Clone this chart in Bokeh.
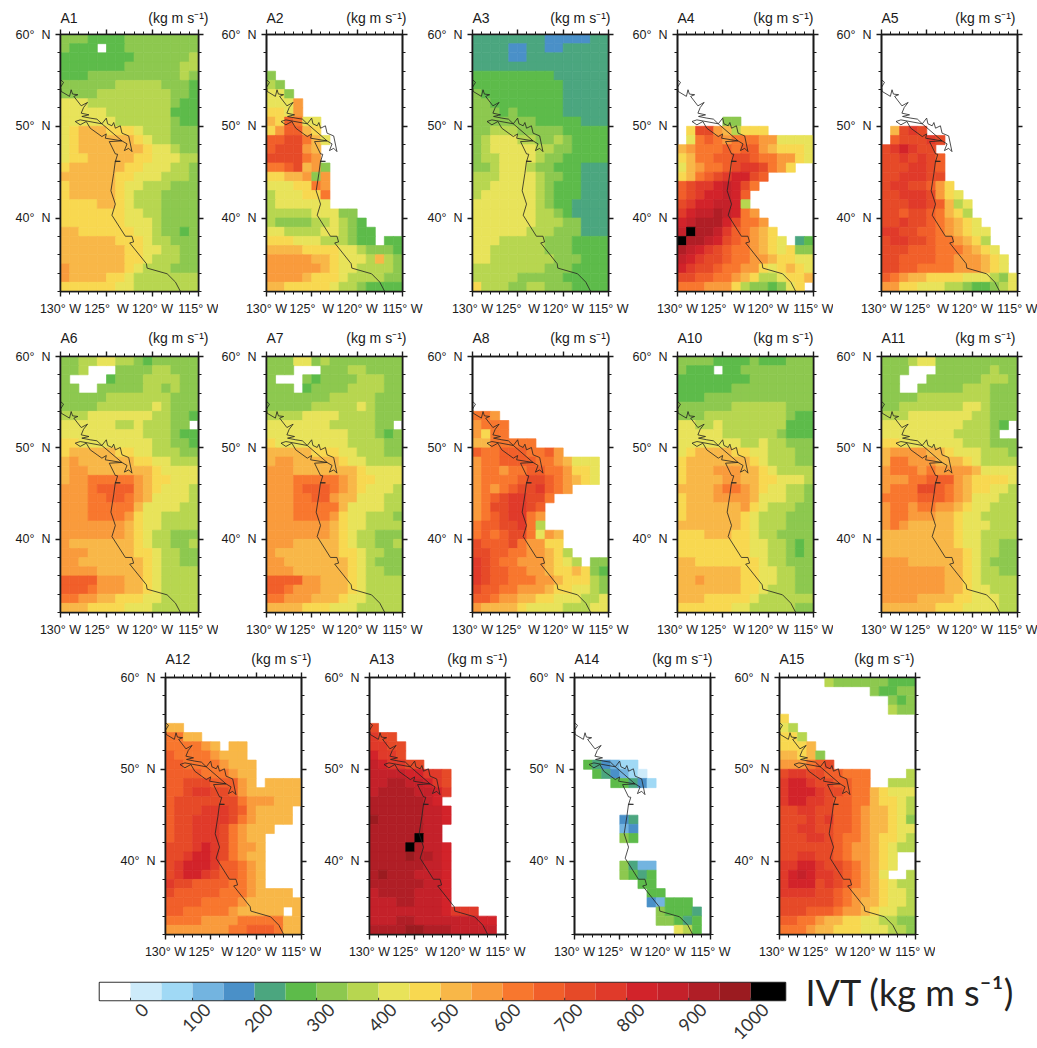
from math import pi
from bokeh.embed import file_html
from bokeh.resources import INLINE
from bokeh.plotting import figure
from bokeh.layouts import column, row
from bokeh.models import (ColumnDataSource, FixedTicker, Label, LinearAxis,
                          LinearColorMapper, Range1d, Spacer)
from bokeh.transform import transform

# Colour classes: a=0-50, b=50-100 ... t=950-1000, X=>1000, .=no data (each row from 130W, rows from 60N)
LETTERS = "abcdefghijklmnopqrst"
PALETTE = ["#CDEBFA", "#A0D9F5", "#73B4E0", "#4A90C8", "#4BA67F", "#5DBB4A", "#8DC84F", "#B7D650",
           "#E8E35A", "#F8D850", "#F8B748", "#F99B3C", "#F8772E", "#F15F2A", "#E64A28", "#E03A2A",
           "#D2232A", "#C4212A", "#B01E26", "#9B1B20"]

A1 = ["gggffffgggggggg","gfff.ffgggggggg","ffffffffggggggh","fffffffgggggghh","fffgggggggggghg","gggggghhhhhgggf","gggghhhhhhhhggf","iiihhhhhhhhhgff","iiiiihhhhhhhfff","iiiiiihhhhhhgff","ijkkkjjjihhhggg","ijkkkkkkjihhggg","ijkkkkkkkjiihgg","ijjkkkkkjjiiihh","jkkkkkkjjiiihhg","kkkkkkjjiiihhhg","jkkkkkjiihhhggg","jkkkkkjihhhgggg","jjjjkkjihhhgggg","jjjjjjjiihhgggg","jjjjjjjiiihgggg","kkjjjjjjiihggfg","kkkkkkjjjihhggg","kkkkkkkjjiihhgg","kkkkkkkjjihhhgg","lkkkkkkjihhhggg","lkkkkjjihhhhhhh","jjjjjjiihhhhhhh"]
A2 = ["","","","","g","hg","iig","iiil","jjil","kjnmii","jlnnkj","nnoomki","nooolk","ooooml","mmnoklg","jjkklgl","iiijjml","hiiijjm","hiiiiii","hhhhhiiigg","hgggghhihgf","iihhhhiihgff","jjjiiihhhgff.ff","kkkkjjjjiihgggf","lllllkkjiiihkhg","llllllkjiihhhhg","llllkjjjihhhhgg","kkjjjjjihhgffff"]
A3 = ["eeeeeeeedddddee","eeeeddeeddeeeee","eeeeddeeeeeeeee","eeeeeeeeeeeeeee","fffffffffeeeeee","ffffffffffeeeee","gfffffffffeeeee","ggffffffffeeeee","gggfgfffffeeeee","gggggggfffffeee","gghhhgggggfffff","ghiiihhgghgffff","ghiiiiihhggffff","ghhiiiihggfffff","gghiiihggfffeee","hhhiiiihggffeee","hhiiiiihgfffeee","hiiiiiihgfffeee","iiiiiiihgffeeee","iiiiiiihhgfeeee","iiiiiiihhhggeee","iiiiiihhhgggeee","iiihhhhhgggffff","iihhhhhhgggffff","iihhhhhhhgggfff","hhhhhhhhgggffff","hhhhhgggggfffff","jhhhgghhgggffff"]
A4 = ["","","","","","","","","",".....gg",".joolkhjjj",".imnmlmmmlliiii","klmmmnmnnlkjjji","jkmmnnoonmmllji","iklmmnoppomlj","jkmnopqqon","noppqrqom","nopqqrqn","opqqrrqh","pqrrsrqml","qrsssqomml","rXssrpnmlkj","Xssrqonmlkji.ef","srqponmmlkjijgg","rqpoonmmllkjjii","qpoonmmlljijkji","oonnmmlkjhhijjk","mmmllljhggfgij"]
A5 = ["","","","","","","","","","",".kopo",".nooopo","opqpoo","oopopon","oooppon","oopppoo","oppoonlj","oopppolji","ooopponkhi","oonoonmkjh","oopoonmlkji","ppoonnmlkjii","oppoonmmlkjh","ooonnnmmmlkji","oonnnnmmlllkji","oonnmmmmlllkji","nmlkkjjjjiiihgi","lljjiiihhgffghi"]
A6 = ["gghhiihhgfggggg","ggh...gggghhggg","g....fggghhhhgg","gg..ggggghhghgg","ggggghhhhhhhggg","gggghhhhhhihggg","hhhiiiiiiihhggf","iiiiiihhihhhgg.","iiiiiiiiihhhgff","jjiiiiiiiihhggf","jkkkkkjjiihhhgg","klkkkkkkjjiihhh","kllkkkkkkkjiiii","kllmmmmmlkjjiii","lllmnnnnlkjiiih","lllmmnnmlkiiiih","lllmmmmmkiiiihh","lllmmmmljiihhhh","lllllllkjiihhhh","lllllllkjihhggg","lkkkkkkkjihhggh","lllkkkkkjjihhgg","llkkkkkkkjihhgg","llllkkkkkjihhhh","nnnnlllkkjihhhh","nnnmlllkkjihhhh","mmllkkjjjiihhhh","kkkjjjjiiihhhhh"]
A7 = ["gggiighgggggggg","ggg...ggghhgggg","g...gfgggghhhgg","ggg.fgggghhhhgg","ggggggghhhhhggg","ggggghhhhhihggg","hhhhiiiihhhhggg","iiiiiiihhhhhgg.","iiiiiiiiihhhgfg","jiiiiiiiihhhhgg","kkkkkjjjiihhhgg","kllkkkkkjiihhhh","lllkkkkkkkjiiii","lllmmmmmlkjjiii","lllmnnnmlkjiiih","lllmmnnlkkiiihh","lllmmmmmkiiiihh","lllmmmmljiihhhg","lllllllkjiihhhh","lllllllkjihhggg","lllkkkkkjihhggh","lkkkkkkkjjihhgg","llkkkkkkkjihggg","lllkkkkkkjihhgg","nnnnllkkkjihhhh","nnmlllkkkjihhhh","mmlllkkkjiihhhh","kkkkjjjiiihhhhh"]
A8 = ["","","","","","","mml","lmmm","ljmm","kkmmmmm","nmmnnnmmnl","lmmnnnnmmlkiii","lmmlmmnnmmljji","lmmmmnoonmlkji","lmlmnoopnml","lmnoppoom","lmooppon","lmnoppml","mnnoopmh","mnmnoomilk","onnnomlljj","oonnmmllkjh","ponmmlllkjih.gg","ponnmmllkjjkjgf","ponnmmmllkjjjhg","onnmmlllkjjiihg","nnmllkkjjiiihhi","lkkkkjiiiihhhii"]
A10 = ["ggggffffgfffggg","gfff.ffgggggggg","ffffffffggggggg","ffffffggggggggg","fffgggggggggggg","gggggghhhhhhggg","ggghhhhhhhhhgff","iihhihhhhhhhfff","iiiiihhhhhhgfff","iiiiiiihhihhggg","ijkkkkjjiihhhgg","jkkkkkkkjihhhgg","jkkklllkkjihhhh","jkkkkllkkjjiiih","kkkklmmlkjiihhg","jkkkllllkiiihhg","jkkkkkkljihhhgg","jkkkkkkjihhhggg","kkkkkkkjihhhggg","jjjkkkjjihhgggg","jjjjjjjjiihhgfg","jjjjjjjjiihhgfg","kkjjjjjjjihhggg","kkkkkkkjjiihhgg","kklkkkkjjiihhgg","kkkkkkkjjihhhgg","kkkjjjjjihhhhhh","jjjjjjiihhhhhgg"]
A11 = ["ggghiiggggggggg","ggg...gggggghgg","gg...gggggghhhg","gg..ggggghhhggg","gggghhhhhhhhggg","gghhhhhhhiihggg","hhhiiiiiiihhggg","iiiiiiiiihhhgf.","iiiiiiiihhhhg..","jjiiiiiiihhhggg","kllllkkjiiihhhg","kmmlllkkkjihhhh","lmmmlmllllkiiii","lllmmnnnlkjjjji","lmmmoonmlkjjiih","mmmmnnnmlkiiihh","lmmlmmllkjiihhh","lmmlllkkjiihhhh","lmlkkkkkjiiihhh","kkkkkkkkjiihhhh","kkkkkkkkjiihhgg","kkkkkkkkkjihhgg","lllkkkkkkjihggg","lllllllkkjihhgg","lllllllkkjihhhh","lllllllkkjiihhh","llllkkkkjjiiihh","kkkkkkjjjiiiihh"]
A12 = ["","","","","","kk","mmkk","mmmmlk.kk","nmmmmlkkk","nnmmmmlkkk","nnnnmmmlkk","nnooonnnlk.kkkk","nnoppoonlkkkkkk","nooooooomlllkkk","noooppponlkkkk","nooppppomlkkkk","noopppomlkkk","noopppomlkk","ooopqpomllk","oopqqpomlkk","opqqqpnnmlk","opqqponnmlk","poonnnnmmlk","onnnnnmmmlkkkk","nnnnmmmmlkkkkkk","nnmmmmmlkkkkk.k","mmmmllllmmmmmkk","lllllllmmnnnmkk"]
A13 = ["","","","","","o","poo","ppoo","qppo","rqppoo","rrrrqqppo","rrssrrqpo","rssssrrqp","ssssssrq","ssssssrrq","tsssssrrq","ssssssrr","sssssXrr","ssssXsrrq","sssstssrq","ssssssrrq","stsssrrrq","ssssssrrq","rssssrrrq","rrrssrrrq","rrrrrrrrqppp","rrrssrrrrrrrqq","ssssttsssrrrrr"]
A14 = ["","","","","","","","","",".fedcbb","..fedcba","....ffedb","","","",".....de",".....cd",".....gf","","",".....gecc",".....gfef",".......ff","........ff","........dcfff",".........gfffe",".........ggfef","...........ihf"]
A15 = [".....hggggggfff","..........gffgg","............gfg","............hgg","j","ih","jjh","jjjk","kkjkg","lllmno","oppoonnmmm....h","pqqpoonnmm..hhh","pqqqpoonmmkjiii","pqqpponnmmkjjih","ooppoonnmlkkjih","ooopopnnmlkkjig","ooppoonnmlkkjii","ooopponmmlkjjih","oooooonmllkjihh","ooppoonmllkji..","ppqqpoonmlkji..","pqrqpponmlki..h","pqqqoponmlkjihh","ppppoonmllkjiih","oooooonmlkkjiih","ooonnnmllkjiihh","nnmmlkkjjiihhgg","mmmlkkjjjiiihhg"]

COAST_LON = [-130.00,-129.67,-130.00,-129.93,-129.02,-128.84,-128.69,-128.11,-128.55,-127.75,-127.06,-127.49,-127.75,-126.91,-127.68,-126.77,-126.04,-125.50,-125.02,-124.88,-124.41,-124.22,-124.04,-123.50,-123.32,-122.59,-122.23,-122.59,-123.06,-122.77,-123.32,-125.50,-127.86,-128.40,-127.86,-127.20,-126.77,-125.50,-125.02,-125.13,-123.32,-124.70,-124.04,-123.79,-124.04,-123.50,-124.04,-124.22,-124.52,-124.04,-124.41,-122.95,-122.23,-122.05,-122.48,-120.66,-120.59,-118.41,-117.50,-116.96]
COAST_LAT = [55.08,54.79,54.24,53.80,53.26,53.98,53.51,53.44,53.26,52.23,52.60,52.05,51.43,51.25,51.07,50.89,50.78,50.27,50.89,50.27,50.05,50.41,49.79,50.05,49.25,48.95,47.24,47.60,47.35,48.08,48.41,50.27,50.70,50.52,50.16,50.52,49.79,48.88,49.17,48.70,48.41,48.33,46.99,46.95,46.15,46.18,46.22,44.87,42.97,41.52,40.31,38.02,38.02,37.40,37.29,35.03,34.55,33.93,33.02,32.00]

X_TICK_LABELS = {-130: "130° W", -125: "125°\u00a0\u00a0W", -120: "120° W", -115: "115° W"}
Y_TICK_LABELS = {60: "60°\u00a0\u00a0N", 50: "50°\u00a0\u00a0N", 40: "40°\u00a0\u00a0N"}
COLORBAR_TICKS = list(range(0, 1001, 100))
UNIT = "(kg m s⁻¹)"
IVT_LABEL = "IVT (kg m s⁻¹)"

FONT = "Liberation Sans"
INK = "#1a1a1a"
mapper = LinearColorMapper(palette=PALETTE, low=0, high=1000, low_color="#ffffff", high_color="#000000")


def ivt_cells(rows):
    left, right, top, bottom, v = [], [], [], [], []
    for j, r in enumerate(rows):
        for i, ch in enumerate(r):
            if ch == ".":
                continue
            left.append(-130 + i)
            right.append(-129 + i)
            top.append(60 - j)
            bottom.append(59 - j)
            v.append(1025 if ch == "X" else 25 + 50 * LETTERS.index(ch))
    return dict(left=left, right=right, top=top, bottom=bottom, v=v)


def panel(name, rows, left, right, above, below, unit_dx, title_dy):
    w = left + 138 + right
    h = above + 257 + below
    p = figure(width=w, height=h, x_range=Range1d(-130, -115), y_range=Range1d(32, 60),
               output_backend="svg", toolbar_location=None, x_axis_location=None, y_axis_location=None,
               min_border_left=left, min_border_right=right, min_border_top=above, min_border_bottom=below,
               background_fill_color="#ffffff", border_fill_color=None)
    p.xgrid.visible = False
    p.ygrid.visible = False
    p.outline_line_color = INK
    p.outline_line_width = 1.6
    p.quad(left="left", right="right", top="top", bottom="bottom", source=ColumnDataSource(ivt_cells(rows)),
           fill_color=transform("v", mapper), line_color=transform("v", mapper), line_width=0.7)
    p.line(COAST_LON, COAST_LAT, line_color="#222222", line_width=0.8)
    xt = FixedTicker(ticks=list(X_TICK_LABELS), minor_ticks=list(range(-130, -114)))
    yt = FixedTicker(ticks=list(Y_TICK_LABELS), minor_ticks=list(range(32, 61, 2)))
    for side, is_x, labelled in [("below", True, True), ("above", True, False), ("left", False, True), ("right", False, False)]:
        ax = LinearAxis(ticker=xt if is_x else yt)
        ax.axis_line_color = INK
        ax.axis_line_width = 1.6
        ax.major_tick_line_color = INK
        ax.minor_tick_line_color = INK
        ax.major_tick_line_width = 1.4
        ax.major_tick_in = 0
        ax.major_tick_out = 5
        ax.minor_tick_in = 0
        ax.minor_tick_out = 3
        if labelled:
            ax.major_label_overrides = X_TICK_LABELS if is_x else Y_TICK_LABELS
            ax.major_label_text_font = FONT
            ax.major_label_text_font_size = "12.5px"
            ax.major_label_text_color = INK
            ax.major_label_standoff = 5
        else:
            ax.major_label_text_font_size = "0px"
            ax.major_label_text_color = None
            ax.major_label_standoff = 0
        p.add_layout(ax, side)
    p.add_layout(Label(x=-130, y=60, y_offset=title_dy, text=name, text_font=FONT, text_font_size="14px",
                       text_color=INK, text_align="left", text_baseline="alphabetic"), "above")
    p.add_layout(Label(x=-115, y=60, x_offset=unit_dx, y_offset=title_dy, text=UNIT, text_font=FONT,
                       text_font_size="14px", text_color=INK, text_align="right", text_baseline="alphabetic"), "above")
    return p


ROW1 = row(
    panel("A1", A1, 60, 20, 38, 27, 10, 17), panel("A2", A2, 46, 22, 38, 27, 4, 17),
    panel("A3", A3, 46, 21, 38, 27, 2, 17), panel("A4", A4, 46, 20, 38, 27, 0, 17),
    panel("A5", A5, 46, 20, 38, 27, -2, 17), spacing=0, styles={"margin-top": "-4px"})
ROW2 = row(
    panel("A6", A6, 60, 20, 38, 26, 10, 19), panel("A7", A7, 46, 22, 38, 26, 4, 19),
    panel("A8", A8, 46, 21, 38, 26, 2, 19), panel("A10", A10, 46, 20, 38, 26, 0, 19),
    panel("A11", A11, 46, 20, 38, 26, -2, 19), spacing=0)
ROW3 = row(
    Spacer(width=117, height=10),
    panel("A12", A12, 46, 20, 38, 30, 10, 19), panel("A13", A13, 46, 21, 38, 30, 2, 19),
    panel("A14", A14, 46, 21, 38, 30, 2, 19), panel("A15", A15, 46, 20, 38, 30, -1, 19), spacing=0)

# colour bar
edges = [-50, 0] + [50 * (k + 1) for k in range(20)] + [1056]
mids = [-25] + [25 + 50 * k for k in range(20)] + [1025]
bar = figure(width=1037, height=84, x_range=Range1d(-50, 1056), y_range=Range1d(0, 1),
             output_backend="svg", toolbar_location=None, x_axis_location=None, y_axis_location=None,
             min_border_left=99, min_border_right=252, min_border_top=18, min_border_bottom=44,
             border_fill_color=None)
bar.extra_x_ranges = {"labels": Range1d(-74, 1032)}
bar.xgrid.visible = False
bar.ygrid.visible = False
bar.outline_line_color = "#333333"
bar.outline_line_width = 1.6
bar.quad(left=edges[:-1], right=edges[1:], top=1, bottom=0,
         fill_color=[("#ffffff" if m < 0 else "#000000" if m > 1000 else PALETTE[int(m // 50)]) for m in mids],
         line_color=None)
bar.segment(x0=COLORBAR_TICKS, x1=COLORBAR_TICKS, y0=0, y1=0.15, line_color="#333333", line_width=1)
lab = LinearAxis(ticker=FixedTicker(ticks=COLORBAR_TICKS), x_range_name="labels")
lab.axis_line_color = None
lab.major_tick_line_color = None
lab.minor_tick_line_color = None
lab.major_tick_in = 0
lab.major_tick_out = 0
lab.major_label_orientation = pi / 4
lab.major_label_text_font = "Lato"
lab.major_label_text_font_size = "18px"
lab.major_label_text_color = "#333333"
lab.major_label_standoff = 6
bar.add_layout(lab, "below")
bar.add_layout(Label(x=1056, y=0.5, x_offset=20, text=IVT_LABEL, text_font="Lato", text_font_size="36px",
                     text_color="#222222", text_align="left", text_baseline="middle"), "right")

page = column(ROW1, ROW2, ROW3, bar, spacing=0)
open("out.html", "w").write(file_html(page, INLINE))
